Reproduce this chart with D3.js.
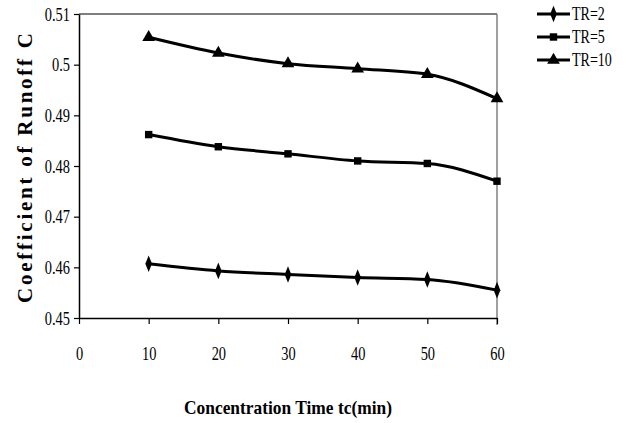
<!DOCTYPE html>
<html>
<head>
<meta charset="utf-8">
<script src="https://cdn.jsdelivr.net/npm/d3@7"></script>
<style>
  body { margin: 0; background: #fff; }
  svg { display: block; }
</style>
</head>
<body>
<div id="chart"></div>
<script>
// concentration time (min)
var times = [10, 20, 30, 40, 50, 60];
var seriesNames = ["TR=2", "TR=5", "TR=10"];
var tr2 = [0.4607, 0.4593, 0.4586, 0.4580, 0.4576, 0.4555];
var tr5 = [0.4862, 0.4838, 0.4824, 0.4810, 0.4805, 0.4770];
var tr10 = [0.5054, 0.5023, 0.5002, 0.4992, 0.4981, 0.4933];
var xTicks = [0, 10, 20, 30, 40, 50, 60];
var yTicks = [0.45, 0.46, 0.47, 0.48, 0.49, 0.50, 0.51];

drawChart();

function drawChart() {
  var svg = d3.select("#chart")
              .append("svg")
              .attr("width", 626)
              .attr("height", 423);

  var margin = {top: 14, left: 79},
      width = 418,
      height = 304;

  var x = d3.scaleLinear().domain([0, 60]).range([0, width]),
      y = d3.scaleLinear().domain([0.45, 0.51]).range([height, 0]);

  var g = svg.append("g")
      .attr("transform", "translate(" + margin.left + "," + margin.top + ")");

  var font = "'Liberation Serif', 'Times New Roman', serif";
  var squeeze = 0.76;

  // frame: black top edge, grey right edge
  g.append("line")
    .attr("x1", 0).attr("x2", width)
    .attr("y1", 0).attr("y2", 0)
    .attr("stroke", "#000").attr("stroke-width", 1.2);
  g.append("line")
    .attr("x1", width).attr("x2", width)
    .attr("y1", 0).attr("y2", height + 7)
    .attr("stroke", "#808080").attr("stroke-width", 1.5);

  // x axis
  var xAxis = g.append("g")
      .attr("transform", "translate(0," + height + ")")
      .call(d3.axisBottom(x).tickValues(xTicks).tickSize(6).tickSizeOuter(0)
            .tickFormat(d3.format("d")));
  xAxis.select(".domain").attr("stroke", "#000").attr("stroke-width", 1.5);
  xAxis.selectAll(".tick line").attr("stroke", "#000").attr("stroke-width", 1.2);
  xAxis.selectAll(".tick text")
    .attr("font-family", font)
    .attr("font-size", "19px")
    .attr("fill", "#000")
    .attr("y", 42)
    .attr("dy", 0)
    .attr("transform", "scale(" + squeeze + ",1)");

  // y axis
  var yAxis = g.append("g")
      .call(d3.axisLeft(y).tickValues(yTicks).tickSize(5).tickSizeOuter(0)
            .tickFormat(function(d){ return d3.format("")(+d.toFixed(2)); }));
  yAxis.select(".domain").attr("stroke", "#000").attr("stroke-width", 1.5);
  yAxis.selectAll(".tick line").attr("stroke", "#000").attr("stroke-width", 1.2);
  yAxis.selectAll(".tick text")
    .attr("font-family", font)
    .attr("font-size", "19px")
    .attr("fill", "#000")
    .attr("x", -9 / squeeze)
    .attr("dy", "0.33em")
    .attr("transform", "scale(" + squeeze + ",1)");

  // series
  var seriesData = [tr2, tr5, tr10];
  var shapes = [d3.symbolDiamond, d3.symbolSquare, d3.symbolTriangle];
  var sizes = [60, 55, 70];

  var line = d3.line()
      .x(function(d){ return x(d.t); })
      .y(function(d){ return y(d.v); })
      .curve(d3.curveMonotoneX);

  seriesData.forEach(function(vals, i) {
    var pts = times.map(function(t, j){ return {t: t, v: vals[j]}; });

    g.append("path")
      .datum(pts)
      .attr("fill", "none")
      .attr("stroke", "#000")
      .attr("stroke-width", 3)
      .attr("stroke-linejoin", "round")
      .attr("d", line);

    g.selectAll(".m" + i)
      .data(pts)
      .enter()
      .append("path")
      .attr("transform", function(d){ return "translate(" + x(d.t) + "," + y(d.v) + ")" +
            (i === 0 ? " scale(0.8,1.15)" : ""); })
      .attr("d", d3.symbol().type(shapes[i]).size(sizes[i]))
      .attr("fill", "#000");
  });

  // legend
  var legend = svg.append("g").attr("transform", "translate(537,14)");
  seriesNames.forEach(function(name, i) {
    var row = legend.append("g").attr("transform", "translate(0," + (i * 23) + ")");
    row.append("line")
      .attr("x1", 0).attr("x2", 33)
      .attr("y1", 0).attr("y2", 0)
      .attr("stroke", "#000").attr("stroke-width", 3);
    row.append("path")
      .attr("transform", "translate(16.5,0)" + (i === 0 ? " scale(0.8,1.15)" : ""))
      .attr("d", d3.symbol().type(shapes[i]).size(sizes[i]))
      .attr("fill", "#000");
    row.append("text")
      .attr("x", 35 / 0.78)
      .attr("y", 0)
      .attr("dy", "0.35em")
      .attr("font-family", font)
      .attr("font-size", "18px")
      .attr("transform", "scale(0.78,1)")
      .text(name);
  });

  // axis titles
  svg.append("text")
    .attr("x", 288)
    .attr("y", 414)
    .attr("text-anchor", "middle")
    .attr("font-family", font)
    .attr("font-size", "19px")
    .attr("font-weight", "bold")
    .attr("textLength", 208)
    .attr("lengthAdjust", "spacingAndGlyphs")
    .text("Concentration Time tc(min)");

  svg.append("text")
    .attr("transform", "translate(32,168) rotate(-90)")
    .attr("text-anchor", "middle")
    .attr("font-family", font)
    .attr("font-size", "21px")
    .attr("font-weight", "bold")
    .attr("textLength", 270)
    .attr("lengthAdjust", "spacing")
    .text("Coefficient of Runoff C");
}
</script>
</body>
</html>
